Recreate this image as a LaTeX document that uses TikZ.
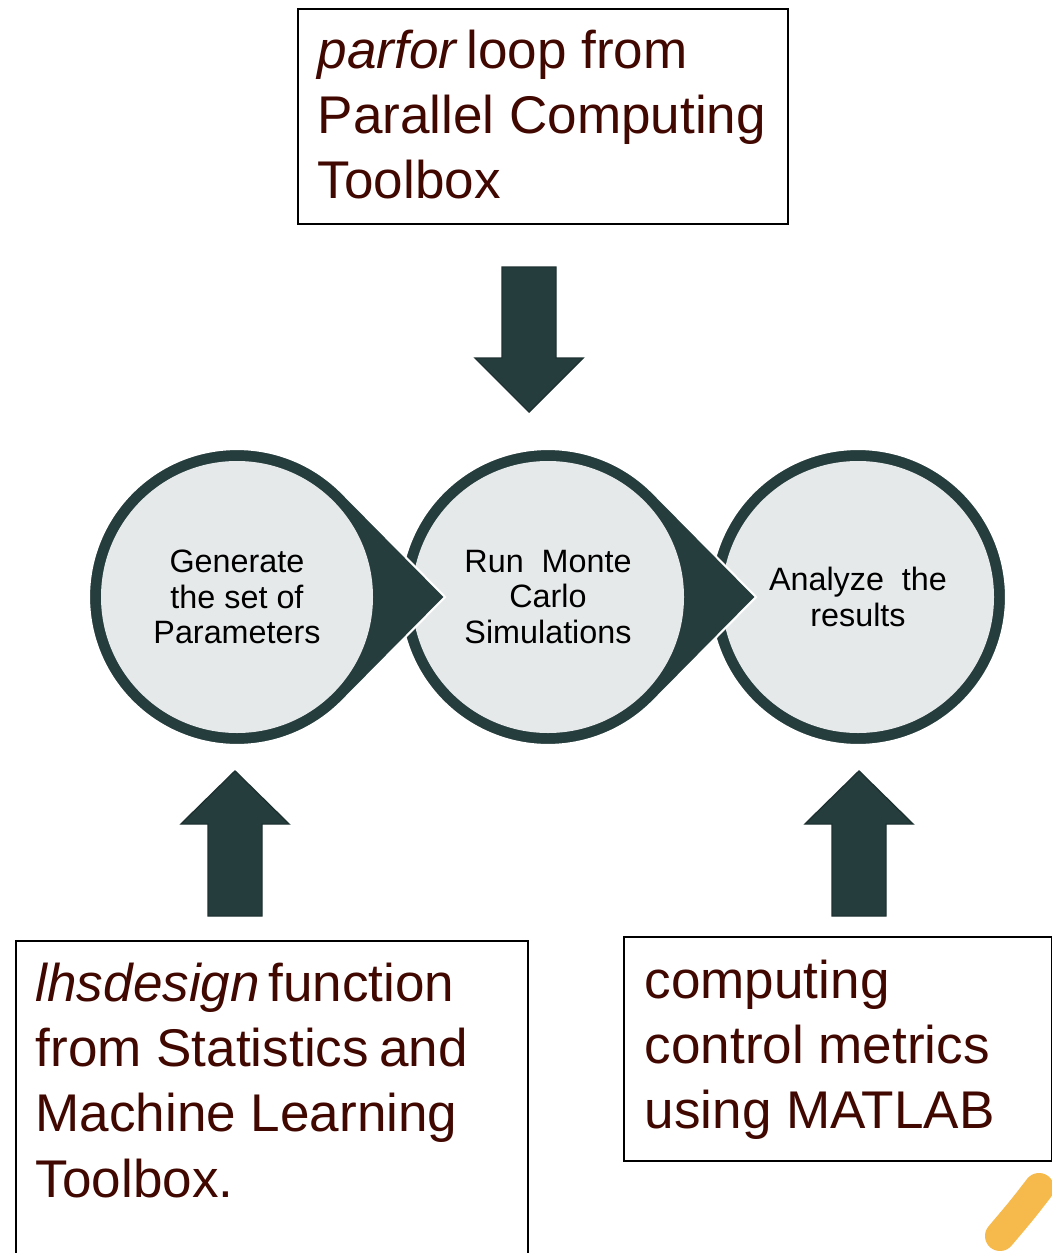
\documentclass[tikz,border=0pt]{standalone}
\usepackage{fontspec}
\setmainfont{Liberation Sans}
\usetikzlibrary{calc,positioning}
\definecolor{tealdark}{RGB}{38,61,61}
\definecolor{circfill}{RGB}{230,233,234}
\definecolor{txtbrown}{RGB}{64,8,0}
\definecolor{penorange}{RGB}{246,185,75}
\tikzset{
  stepcircle/.style={circle,fill=circfill,minimum size=2.72cm,inner sep=0pt,align=center,font=\fontsize{9.2}{10.2}\selectfont},
  teardrop/.style={fill=tealdark,draw=white,line width=0.6pt},
  toolbox/.style={draw=black,line width=0.6pt,inner sep=0pt,anchor=north west},
  tooltext/.style={text=txtbrown,align=left,inner sep=0pt,anchor=north west,font=\fontsize{15.1}{18.6}\selectfont},
  blockarrow/.style={fill=tealdark,draw=tealdark!80!black,line width=0.4pt},
}

\begin{document}
\begin{tikzpicture}[scale=1]
        \fill[white] (0,0) rectangle (10.52,-12.53);
        \useasboundingbox (0,0) rectangle (10.52,-12.53);
        %%%
        \node[toolbox,minimum width=4.90cm,minimum height=2.15cm] (parforbox) at (2.97,-0.08) {};
        \node[tooltext] (parfortxt) at (3.17,-0.29) {\textit{parfor}\kern-0.12em{} loop from\\Parallel Computing\\Toolbox};
        %%%
        \node[toolbox,minimum width=5.12cm,minimum height=3.6cm] (lhsbox) at (0.15,-9.40) {};
        \node[tooltext] (lhstxt) at (0.35,-9.62) {\textit{lhsdesign}\kern-0.12em{} function\\from Statistics\kern-0.08em{} and\\Machine Learning\\Toolbox.};
        %%%
        \node[toolbox,minimum width=4.28cm,minimum height=2.24cm] (metricbox) at (6.23,-9.36) {};
        \node[tooltext] (metrictxt) at (6.44,-9.59) {computing\\control metrics\\using MATLAB};
        %%%
        \coordinate (anaC) at (8.58,-5.97);
        \coordinate (runC) at (5.48,-5.97);
        \coordinate (genC) at (2.37,-5.97);
        %%%
        \fill[teardrop] (anaC) circle (1.48);
        \node[stepcircle] (ana) at (anaC) {Analyze \ the\\results};
        \fill[teardrop] ($(runC)+(2.08,0)$) -- ($(runC)+(44.7:1.48)$) arc[start angle=44.7,end angle=315.3,radius=1.48] -- cycle;
        \node[stepcircle] (run) at (runC) {Run \ Monte\\Carlo\\Simulations};
        \fill[teardrop] ($(genC)+(2.08,0)$) -- ($(genC)+(44.7:1.48)$) arc[start angle=44.7,end angle=315.3,radius=1.48] -- cycle;
        \node[stepcircle] (gen) at (genC) {Generate\\the set of\\Parameters};
        %%%
        \coordinate (downtip) at (5.29,-4.12);
        \draw[blockarrow] (downtip) -- ++(-0.54,0.54) -- ++(0.27,0) -- ++(0,0.91) -- ++(0.54,0) -- ++(0,-0.91) -- ++(0.27,0) -- cycle;
        \foreach \x in {2.35,8.59}
            \draw[blockarrow] (\x,-7.71) -- ++(-0.54,-0.53) -- ++(0.27,0) -- ++(0,-0.92) -- ++(0.54,0) -- ++(0,0.92) -- ++(0.27,0) -- cycle;
        %%%
        \draw[penorange,line width=0.3cm,line cap=round] (10.39,-11.88) .. controls (10.22,-12.1) .. (10.0,-12.36);
        %%%
    \end{tikzpicture}
\end{document}
